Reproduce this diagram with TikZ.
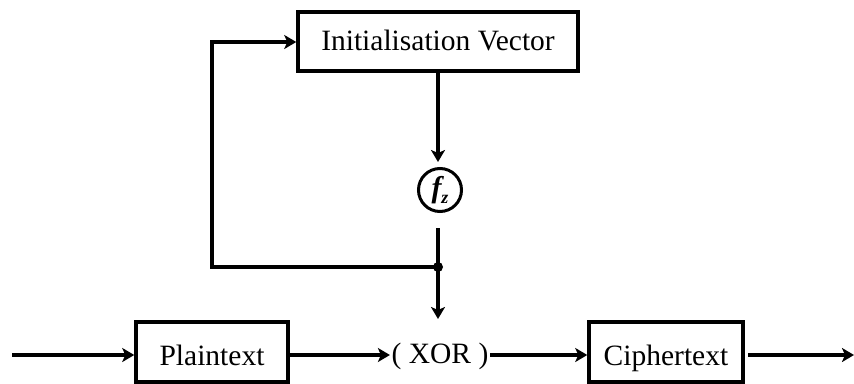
\documentclass[tikz,border=0pt]{standalone}
\usepackage{fontspec}
\setmainfont{Liberation Serif}
\usetikzlibrary{arrows.meta}
\begin{document}
\begin{tikzpicture}[x=1pt,y=-1pt,
  line width=3.5pt,
  flow/.style={-{Stealth[length=12pt,width=14pt,inset=3pt]}},
  blockbox/.style={draw, inner sep=0pt, text height=22pt, text depth=5pt,
    font=\fontsize{29.5}{32}\selectfont},
  lowbox/.style={blockbox, text height=30pt, text depth=4pt},
  lbl/.style={inner sep=0pt, text height=21pt, text depth=5pt,
    font=\fontsize{29.5}{32}\selectfont},
  fnode/.style={draw, circle, line width=3pt, minimum size=43pt, inner sep=0pt}]
\clip (0,0) rectangle (854,383);
\fill[white] (0,0) rectangle (854,383);

% blocks
\node[blockbox, minimum width=280pt, minimum height=59pt] (iv) at (438,41.5) {Initialisation Vector};
\node[lowbox, minimum width=152pt, minimum height=60pt] (pt) at (212,352) {Plaintext};
\node[lowbox, minimum width=154pt, minimum height=60pt] (ct) at (666,352) {Ciphertext};
\node[lbl] (xor) at (440,355) {( XOR )};
\node[fnode] (fk) at (440,190)
  {\fontsize{30}{30}\selectfont\bfseries\itshape f\raisebox{-6pt}{\fontsize{18}{18}\selectfont z}};

% helper points
\coordinate (in) at (12,355);
\coordinate (out) at (854,355);
\coordinate (ctout) at (748,355);
\coordinate (j) at (438,267);
\coordinate (fbot) at (438,228);
\coordinate (xtop) at (438,319);
\coordinate (lc) at (212,267);
\coordinate (tc) at (212,42);

% connectors
\draw[flow] (iv.south -| j) -- (438,162);
\draw (fbot) -- (j);
\draw[flow] (j) -- (xtop);
\draw[flow] (j) -- (lc) -- (tc) -- (iv.west |- tc);
\fill (j) circle (5pt);
\draw[flow] (in) -- (pt.west |- in);
\draw[flow] (pt.east |- in) -- (xor.west);
\draw[flow] (xor.east) -- (ct.west |- in);
\draw[flow] (ctout) -- (out);
\end{tikzpicture}
\end{document}
